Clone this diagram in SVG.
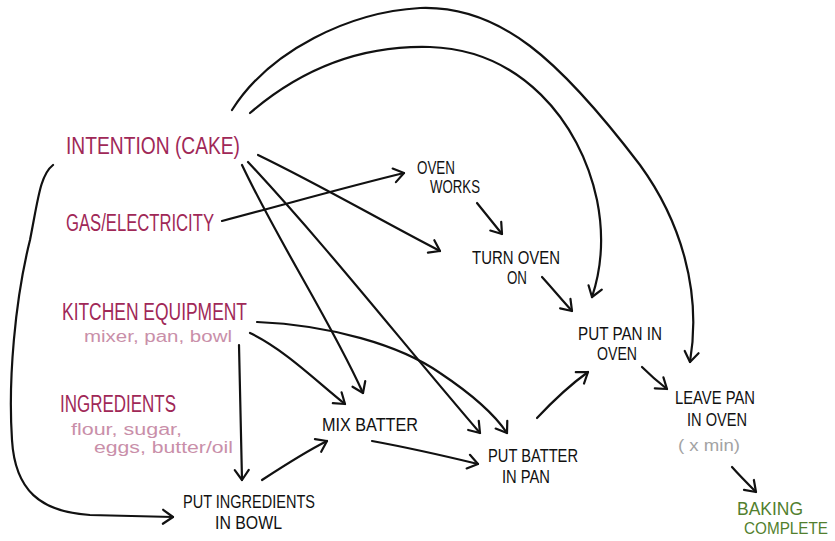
<svg xmlns="http://www.w3.org/2000/svg" width="835" height="541" viewBox="0 0 835 541">
<style>
text{font-family:"Liberation Sans Narrow","Liberation Sans",Arial,sans-serif;}
.cause{fill:#a02857;font-size:23px;}
.sub{fill:#c98fa9;font-size:16px;}
.step{fill:#111;font-size:19px;}
.note{fill:#a3a3a3;font-size:16px;}
.done{fill:#527f2e;font-size:18px;}
.c path{fill:none;stroke:#111;stroke-width:2.2;stroke-linecap:round;stroke-linejoin:round;marker-end:url(#ah);}
</style>
<defs>
<marker id="ah" viewBox="-13 -9 16 18" refX="0" refY="0" markerWidth="16" markerHeight="18" markerUnits="userSpaceOnUse" orient="auto">
<path d="M-10,-7 L0,0 L-10,7" fill="none" stroke="#111" stroke-width="2.2" stroke-linecap="round" stroke-linejoin="round"/>
</marker>
</defs>
<rect width="835" height="541" fill="#fff"/>
<g id="connectors" class="c">
<path d="M53,165 C40,175 38,200 30,240 C15,300 8,380 12,440 C15,490 40,512 90,515 L173,517"/>
<path d="M232,110 C270,50 350,12 420,8 C500,5 560,60 640,165 C680,220 702,290 690,362"/>
<path d="M250,113 C300,70 360,45 430,47 C520,50 580,120 597,200 C605,240 601,270 592,297"/>
<path d="M222,221 C290,203 350,186 404,173"/>
<path d="M258,155 C320,185 380,220 440,251"/>
<path d="M248,162 C330,250 400,340 480,433"/>
<path d="M242,165 C280,245 330,320 363,393"/>
<path d="M250,333 C285,350 315,380 345,404"/>
<path d="M257,322 C330,325 400,345 440,373 C470,393 495,415 507,433"/>
<path d="M239,345 L242,480"/>
<path d="M262,480 C285,465 305,452 327,441"/>
<path d="M372,441 C410,448 445,456 478,464"/>
<path d="M477,203 C485,213 494,224 502,234"/>
<path d="M542,277 C552,288 562,300 572,311"/>
<path d="M537,418 C552,402 570,385 588,372"/>
<path d="M642,367 C650,375 658,382 667,389"/>
<path d="M732,467 C740,476 748,484 756,492"/>
</g>
<g id="intention"><text class="cause" x="66" y="154" textLength="174" lengthAdjust="spacingAndGlyphs">INTENTION (CAKE)</text></g>
<g id="gas"><text class="cause" x="66" y="231" textLength="148" lengthAdjust="spacingAndGlyphs">GAS/ELECTRICITY</text></g>
<g id="kitchen">
<text class="cause" x="62" y="320" textLength="185" lengthAdjust="spacingAndGlyphs">KITCHEN EQUIPMENT</text>
<text class="sub" x="84" y="342" textLength="148" lengthAdjust="spacingAndGlyphs">mixer, pan, bowl</text>
</g>
<g id="ingredients">
<text class="cause" x="60" y="412" textLength="116" lengthAdjust="spacingAndGlyphs">INGREDIENTS</text>
<text class="sub" x="71" y="435" textLength="111" lengthAdjust="spacingAndGlyphs">flour, sugar,</text>
<text class="sub" x="94" y="453" textLength="139" lengthAdjust="spacingAndGlyphs">eggs, butter/oil</text>
</g>
<g id="oven-works">
<text class="step" x="417" y="174" textLength="38" lengthAdjust="spacingAndGlyphs">OVEN</text>
<text class="step" x="430" y="193" textLength="50" lengthAdjust="spacingAndGlyphs">WORKS</text>
</g>
<g id="turn-oven-on">
<text class="step" x="472" y="264" textLength="88" lengthAdjust="spacingAndGlyphs">TURN OVEN</text>
<text class="step" x="507" y="284" textLength="20" lengthAdjust="spacingAndGlyphs">ON</text>
</g>
<g id="put-pan">
<text class="step" x="578" y="340" textLength="84" lengthAdjust="spacingAndGlyphs">PUT PAN IN</text>
<text class="step" x="597" y="360" textLength="40" lengthAdjust="spacingAndGlyphs">OVEN</text>
</g>
<g id="leave-pan">
<text class="step" x="675" y="404" textLength="80" lengthAdjust="spacingAndGlyphs">LEAVE PAN</text>
<text class="step" x="687" y="426" textLength="60" lengthAdjust="spacingAndGlyphs">IN OVEN</text>
<text class="note" x="678" y="451" textLength="62" lengthAdjust="spacingAndGlyphs">( x min)</text>
</g>
<g id="baking-complete">
<text class="done" x="737" y="515" textLength="66" lengthAdjust="spacingAndGlyphs">BAKING</text>
<text class="done" x="744" y="534" style="font-size:16px" textLength="84" lengthAdjust="spacingAndGlyphs">COMPLETE</text>
</g>
<g id="mix-batter"><text class="step" x="322" y="431" textLength="96" lengthAdjust="spacingAndGlyphs">MIX BATTER</text></g>
<g id="put-batter">
<text class="step" x="488" y="462" textLength="90" lengthAdjust="spacingAndGlyphs">PUT BATTER</text>
<text class="step" x="502" y="483" textLength="48" lengthAdjust="spacingAndGlyphs">IN PAN</text>
</g>
<g id="put-ingredients">
<text class="step" x="183" y="508" textLength="132" lengthAdjust="spacingAndGlyphs">PUT INGREDIENTS</text>
<text class="step" x="215" y="529" textLength="67" lengthAdjust="spacingAndGlyphs">IN BOWL</text>
</g>
</svg>
